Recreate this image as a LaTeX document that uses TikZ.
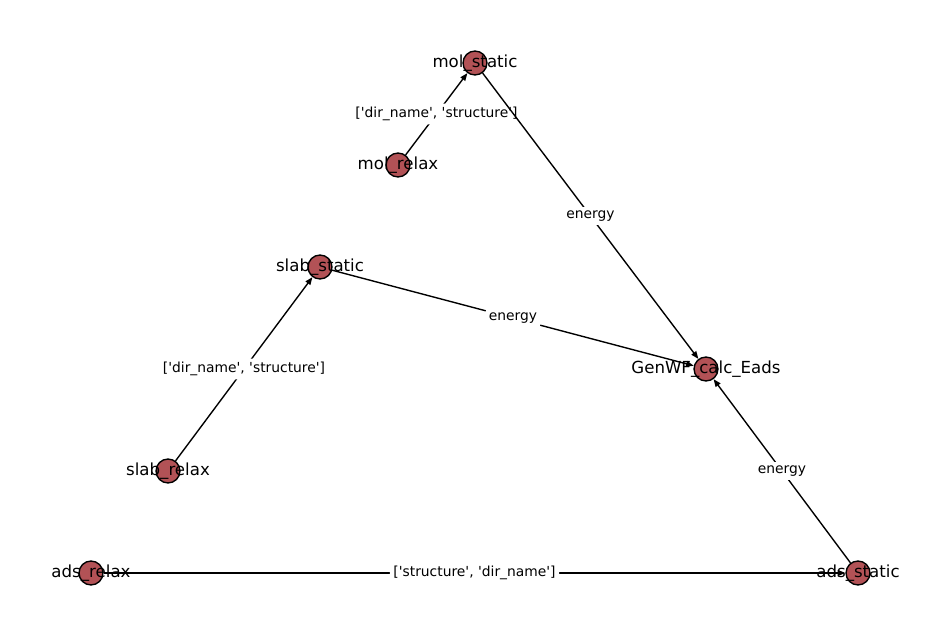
\documentclass[tikz,border=0pt]{standalone}
\usepackage{fontspec}
\setmainfont{DejaVu Sans}
\usetikzlibrary{arrows.meta,backgrounds}
\definecolor{nodered}{RGB}{178,82,86}
\newcommand{\qt}[1]{\textquotesingle#1\textquotesingle}
\tikzset{
	vert/.style={circle,draw=black,line width=1pt,fill=nodered,minimum size=17.3pt,inner sep=0pt},
	vname/.style={font=\fontsize{12}{14}\selectfont,inner sep=0pt},
	elab/.style={font=\fontsize{10}{12}\selectfont,fill=white,rounded corners=2pt,inner sep=2.5pt},
	edge/.style={-{Triangle[length=5.5pt,width=4.2pt]},line width=1pt}
}
\begin{document}
\begin{tikzpicture}[x=0.01in,y=-0.01in]
		\useasboundingbox (0,0) rectangle (950,636);
		% nodes
		\node[vert] (molstatic) at (475,63) {};
		\node[vert] (molrelax) at (398,165) {};
		\node[vert] (slabstatic) at (320,267) {};
		\node[vert] (calceads) at (706,369) {};
		\node[vert] (slabrelax) at (168,471) {};
		\node[vert] (adsrelax) at (91,573) {};
		\node[vert] (adsstatic) at (858,573) {};
		% node names
		\node[vname] at (molstatic) {mol\_static};
		\node[vname] at (molrelax) {mol\_relax};
		\node[vname] at (slabstatic) {slab\_static};
		\node[vname] at (calceads) {GenWF\_calc\_Eads};
		\node[vname] at (slabrelax) {slab\_relax};
		\node[vname] at (adsrelax) {ads\_relax};
		\node[vname] at (adsstatic) {ads\_static};
		% edges, behind the nodes
		\begin{scope}[on background layer]
		\draw[edge] (molrelax) -- (molstatic) node[midway,elab] {[\qt{dir\_name}, \qt{structure}]};
		\draw[edge] (molstatic) -- (calceads) node[midway,elab] {energy};
		\draw[edge] (slabstatic) -- (calceads) node[midway,elab] {energy};
		\draw[edge] (slabrelax) -- (slabstatic) node[midway,elab] {[\qt{dir\_name}, \qt{structure}]};
		\draw[edge] (adsstatic) -- (calceads) node[midway,elab] {energy};
		\draw[edge] (adsrelax) -- (adsstatic) node[midway,elab] {[\qt{structure}, \qt{dir\_name}]};
		\end{scope}
	\end{tikzpicture}
\end{document}
